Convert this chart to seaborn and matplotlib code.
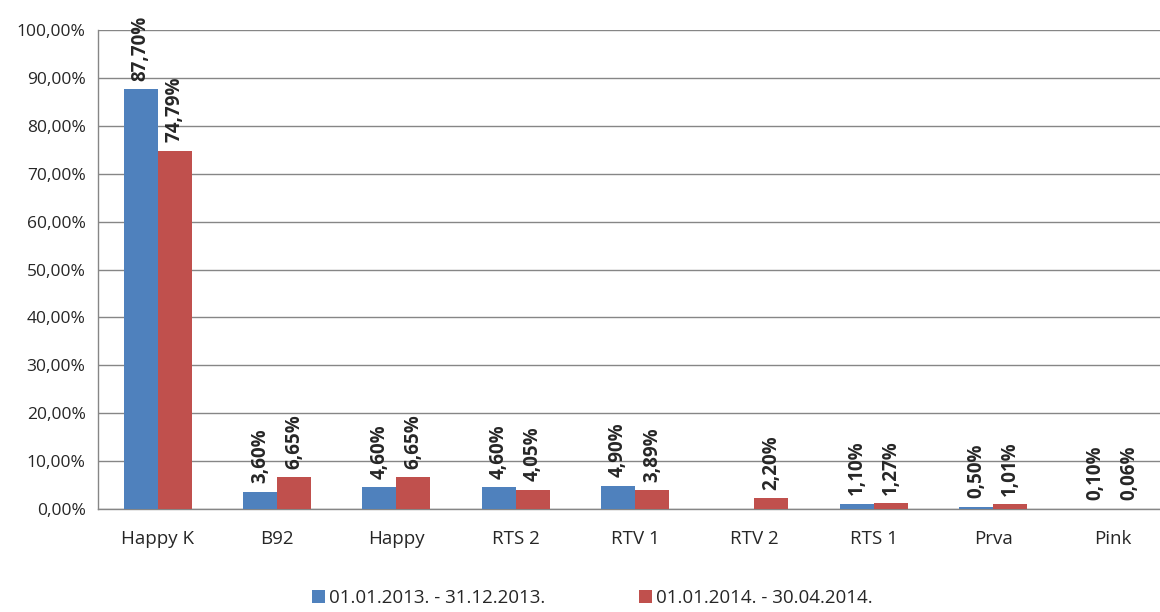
import numpy as np
import pandas as pd
import matplotlib
matplotlib.use("Agg")
import matplotlib.pyplot as plt
import seaborn as sns
from matplotlib.ticker import FuncFormatter, FixedLocator

categories = ["Happy K", "B92", "Happy", "RTS 2", "RTV 1", "RTV 2", "RTS 1", "Prva", "Pink"]
series_2013 = [87.70, 3.60, 4.60, 4.60, 4.90, np.nan, 1.10, 0.50, 0.10]
series_2014 = [74.79, 6.65, 6.65, 4.05, 3.89, 2.20, 1.27, 1.01, 0.06]
series_names = ["01.01.2013. - 31.12.2013.", "01.01.2014. - 30.04.2014."]
colors = ["#4F81BD", "#C0504D"]

sns.set_style("white")
plt.rcParams['font.family'] = ['Open Sans', 'DejaVu Sans']

df = pd.DataFrame({
    'kanal': categories * 2,
    'vrednost': series_2013 + series_2014,
    'period': [series_names[0]] * len(categories) + [series_names[1]] * len(categories),
})

fig = plt.figure(figsize=(11.6, 6.12), dpi=100)
ax = fig.add_axes([98 / 1160, 1 - 509 / 612, (1172 - 98) / 1160, (509 - 30) / 612])

sns.barplot(data=df, x='kanal', y='vrednost', hue='period', palette=colors,
            width=0.57, gap=0, ax=ax, saturation=1, legend=True, zorder=3,
            linewidth=0, edgecolor='none')

ax.set_ylim(0, 100)
ax.set_xlim(-0.5, len(categories) - 0.5)
ax.yaxis.set_major_locator(FixedLocator(np.arange(0, 101, 10)))
ax.yaxis.set_major_formatter(FuncFormatter(lambda v, p: ("%.2f%%" % v).replace('.', ',')))
ax.grid(axis='y', color='#868686', linewidth=1, zorder=0)
ax.set_axisbelow(True)

for s in ['top', 'right']:
    ax.spines[s].set_visible(False)
for s in ['left', 'bottom']:
    ax.spines[s].set_color('#868686')
    ax.spines[s].set_linewidth(1)

ax.tick_params(axis='y', length=6, color='#868686', labelsize=12.5, pad=3)
ax.tick_params(axis='x', which='major', length=0, labelsize=13.5, pad=15)
ax.set_xticks(np.arange(-0.5, len(categories) + 0.5, 1), minor=True)
ax.tick_params(axis='x', which='minor', length=7, color='#868686', direction='out')
ax.set_xlabel("")
ax.set_ylabel("")

for cont in ax.containers:
    labels = []
    for bar in cont:
        h = bar.get_height()
        if np.isnan(h):
            labels.append("")
        else:
            labels.append(("%.2f%%" % h).replace('.', ','))
    ax.bar_label(cont, labels=labels, rotation=90, fontweight='bold', fontsize=13.5, padding=6)

handles, lbls = ax.get_legend_handles_labels()
ax.get_legend().remove()
fig.legend(handles, lbls, loc='center', bbox_to_anchor=(592 / 1160, 1 - 598 / 612), ncol=2,
           frameon=False, fontsize=13.5, handlelength=0.7, handleheight=0.7,
           handletextpad=0.2, columnspacing=5.0)

fig.savefig("out.png", dpi=100)
